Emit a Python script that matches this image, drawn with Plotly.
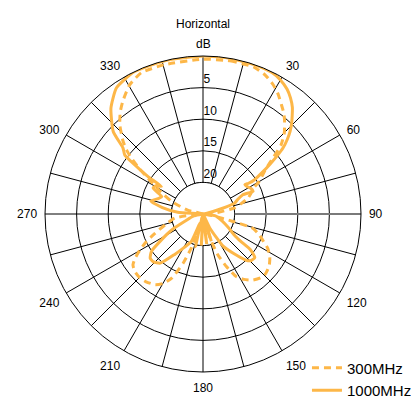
import plotly.graph_objects as go

# ---- data (compass angle in degrees, attenuation in dB) ----
theta_300 = [0, 10, 19, 24, 28.4, 32, 35.6, 38.5, 40.9, 45, 48.5, 51.3, 54, 57, 60, 63, 66,
             70.4, 75, 79, 85, 92, 100, 104, 106, 110, 114, 118, 123, 128, 134, 138, 143,
             148, 152, 156, 160, 163, 168, 180, 192, 199, 202, 206, 210, 214, 220, 225,
             230, 234, 237, 240, 244, 248, 255, 262, 268, 276, 284, 292, 296, 299, 302,
             304, 306, 308, 310, 312.3, 317, 321, 324.6, 330.4, 336.4, 345.6, 360]
db_300 = [0.5, 0.4, 0.4, 0.9, 1.7, 2.6, 3.7, 4.5, 5.3, 6.8, 8.5, 10.8, 12.6, 13.8, 14.8, 16.1, 16.6,
          17.4, 18.8, 19.9, 23, 25, 23.5, 20.1, 16.8, 15.6, 14.6, 13.4, 12.4, 11.7, 11.3, 11.4, 11.9,
          12.8, 13.8, 15.9, 18.1, 20.5, 24, 25, 24, 19.3, 16.6, 13.7, 12.3, 11.5, 11.0, 10.8,
          10.9, 11.3, 12.2, 13.4, 15, 16.8, 19, 20.5, 24, 25, 22.5, 19.6, 18.2, 16.8, 15.3,
          13.9, 12.2, 10.6, 9.2, 7.9, 5.7, 4.2, 3.1, 1.5, 0.6, 0.6, 0.5]

theta_1000 = [0, 10, 20, 26, 30, 34, 37, 40, 42, 44.5, 46.5, 48.5, 50.5, 52, 53.5, 55, 56.4,
              56, 54.9, 58, 62, 65.6, 64.2, 67, 71, 74, 80, 90, 99, 110, 118, 124, 126, 127,
              130, 134, 137, 142, 148, 154, 158, 163, 168, 173, 178, 183, 188, 193, 198,
              203, 209, 215, 221, 226, 230, 234, 238, 243, 248, 258, 268, 274, 279, 284,
              289, 293, 297.5, 301, 303.6, 304.2, 305, 307, 309.5, 312.6, 319, 325.5, 334,
              346, 360]
db_1000 = [0, 0, 0, 0.1, 0.5, 1.2, 2.0, 3.0, 3.9, 5.0, 6.0, 7.2, 8.6, 10.2, 11.9, 13.6, 15.2,
           16.3, 16.9, 16.8, 16.4, 16.3, 18.0, 19.0, 19.7, 22, 24.5, 25, 23, 21.8, 20.5, 19.0, 17.5, 15.6,
           14.3, 14.4, 15.0, 17.0, 19.0, 22.5, 25, 20.5, 25, 20.2, 25, 20.0, 25, 19.7, 23.5,
           20.3, 19.0, 17.2, 14.7, 14.1, 14.1, 14.9, 17.2, 19.5, 21.9, 23.5, 25, 21, 18.5, 16.5,
           17.5, 17.9, 16.1, 16.3, 17.1, 14.6, 13.1, 9.5, 8.6, 5.7, 2.8, 0.8, 0,
           0, 0]

angular_ticks = list(range(0, 360, 15))
angular_labels = ["" if (a % 30 or a == 0) else str(a) for a in angular_ticks]
radial_ticks = [0, 5, 10, 15, 20]
label_ticks = [5, 10, 15, 20]
label_text = ["5", "10", "15", "20"]
label_shift = 1.3  # labels sit just outside their ring
radial_unit = "dB"
inner_ring = 20
circle_theta = list(range(0, 361, 3))

ORANGE = "#FDB748"
FONT = "Liberation Sans, Arial, sans-serif"

fig = go.Figure()
# inner disc (no spokes inside the 20 dB ring)
fig.add_trace(go.Scatterpolar(r=[inner_ring] * len(circle_theta), theta=circle_theta,
                              mode="lines", fill="toself", fillcolor="white",
                              line=dict(color="black", width=1), showlegend=False,
                              hoverinfo="skip"))
# grey 90-degree spoke
fig.add_trace(go.Scatterpolar(r=[inner_ring, 0], theta=[90, 90], mode="lines",
                              line=dict(color="#7a7a7a", width=2), showlegend=False,
                              hoverinfo="skip", cliponaxis=False))
fig.add_trace(go.Scatterpolar(r=db_300, theta=theta_300, mode="lines", name="300MHz",
                              line=dict(color=ORANGE, width=3, dash="7px,5px",
                                        shape="spline", smoothing=0.5),
                              cliponaxis=False))
fig.add_trace(go.Scatterpolar(r=db_1000, theta=theta_1000, mode="lines", name="1000MHz",
                              line=dict(color=ORANGE, width=3, shape="spline", smoothing=0.5),
                              cliponaxis=False))
# invisible anchor trace for the label overlay subplot
fig.add_trace(go.Scatterpolar(r=[25], theta=[0], mode="markers", subplot="polar2",
                              marker=dict(opacity=0), showlegend=False, hoverinfo="skip"))

fig.update_layout(
    width=419, height=400,
    margin=dict(l=37, r=66, t=48, b=36, autoexpand=False),
    paper_bgcolor="white",
    font=dict(family=FONT, size=12, color="black"),
    title=dict(text="Horizontal", x=195 / 419, xref="container", xanchor="center",
               y=1 - 16 / 400, yref="container", yanchor="middle",
               font=dict(size=12, family=FONT, color="black")),
    showlegend=True,
    legend=dict(x=0.829, y=0.065, xanchor="left", yanchor="top",
                font=dict(size=15, family=FONT, color="black"),
                bgcolor="rgba(0,0,0,0)", tracegroupgap=0),
    annotations=[dict(text=radial_unit, x=0.5, y=1.0, xref="paper", yref="paper",
                      xanchor="center", yanchor="bottom", yshift=3, showarrow=False,
                      font=dict(size=12, family=FONT, color="black"))],
    polar=dict(
        bgcolor="white",
        domain=dict(x=[0, 1], y=[0, 1]),
        angularaxis=dict(rotation=90, direction="clockwise", tickmode="array",
                         tickvals=angular_ticks, ticktext=angular_labels,
                         showline=True, linecolor="black", linewidth=1,
                         gridcolor="black", gridwidth=1, ticks="outside", ticklen=5,
                         tickcolor="rgba(0,0,0,0)",
                         tickfont=dict(size=12, family=FONT, color="black")),
        radialaxis=dict(range=[25, 0], tickmode="array", tickvals=radial_ticks,
                        showticklabels=False, angle=90, showline=False,
                        gridcolor="black", gridwidth=1, ticks=""),
    ),
    polar2=dict(
        bgcolor="rgba(0,0,0,0)",
        domain=dict(x=[0, 1], y=[0, 1]),
        angularaxis=dict(rotation=90, direction="clockwise", showline=False,
                         showgrid=False, showticklabels=False, ticks=""),
        radialaxis=dict(range=[25, 0], tickmode="array",
                        tickvals=[v - label_shift for v in label_ticks],
                        ticktext=label_text, angle=90, tickangle=90,
                        showline=False, showgrid=False, ticks="",
                        tickfont=dict(size=12, family=FONT, color="black")),
    ),
)

fig.write_html("out.html")
